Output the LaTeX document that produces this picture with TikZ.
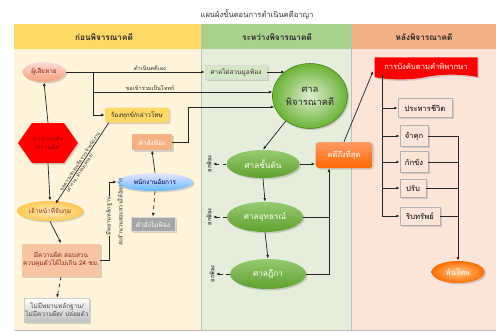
\documentclass[tikz,border=0pt]{standalone}
\usepackage{fontspec}
\setmainfont{Liberation Sans}
\newfontfamily\thaifont[Script=Thai]{Loma}
\usetikzlibrary{shapes.geometric,shapes.symbols,shadows,calc,arrows.meta}

\definecolor{hdyel}{HTML}{FFD966}
\definecolor{hdgrn}{HTML}{A9D18E}
\definecolor{hdorg}{HTML}{F4B183}
\definecolor{bdyel}{HTML}{FFF3D9}
\definecolor{bdgrn}{HTML}{E4EEDB}
\definecolor{bdorg}{HTML}{FCE4D9}
\definecolor{linec}{HTML}{262626}
\definecolor{darkred}{HTML}{8B2A10}
\definecolor{courtgrn}{HTML}{6AB334}

\tikzset{
  every node/.style={font=\thaifont\fontsize{5.5}{6.8}\selectfont, align=center, inner sep=1pt},
  dropsh/.style={drop shadow={shadow xshift=1.3pt, shadow yshift=-1.3pt, opacity=0.3}},
  headtext/.style={font=\thaifont\bfseries\fontsize{7}{8}\selectfont, text=black!85},
  ovalnode/.style={ellipse, dropsh},
  plainbox/.style={rectangle, dropsh},
  courtoval/.style={ellipse, dropsh, top color=courtgrn!70!white, bottom color=courtgrn!90!black,
    text=white, font=\thaifont\fontsize{7}{8}\selectfont, minimum width=2.28cm, minimum height=0.9cm},
  penalty/.style={rectangle, dropsh, fill=bdorg, draw=black!30, line width=0.4pt,
    font=\thaifont\fontsize{6.5}{7.5}\selectfont, minimum height=0.6cm},
  linetext/.style={font=\thaifont\fontsize{4.8}{5.6}\selectfont, text=black!80},
  slanttext/.style={font=\thaifont\fontsize{4}{4.6}\selectfont, text=black!80, inner sep=0.6pt},
  dismiss/.style={linetext, rotate=90, font=\thaifont\bfseries\fontsize{4.8}{5.6}\selectfont}
}

\begin{document}
\begin{tikzpicture}[x=0.03cm, y=-0.03cm, >={Latex[length=3pt,width=2.4pt]}, line width=0.6pt]
\useasboundingbox (0,0) rectangle (496,333);

\fill[bdyel] (14,49) rectangle (201,330);
\fill[bdgrn] (201,49) rectangle (351,330);
\fill[bdorg] (351,49) rectangle (496,330);
\fill[hdyel] (14,24) rectangle (201,49);
\fill[hdgrn] (201,24) rectangle (351,49);
\fill[hdorg] (351,24) rectangle (496,49);
\draw[black!25, line width=0.4pt] (201,24) -- (201,330) (351,24) -- (351,330) (14,330) -- (496,330);

\node[font=\thaifont\fontsize{6.5}{7.5}\selectfont, text=black!80] (title) at (257,14) {แผนผังขั้นตอนการดำเนินคดีอาญา};
\node[headtext] (head1) at (104,37) {ก่อนพิจารณาคดี};
\node[headtext] (head2) at (277,37) {ระหว่างพิจารณาคดี};
\node[headtext] (head3) at (424,37) {หลังพิจารณาคดี};

\node[ovalnode, top color=red!15!white, bottom color=hdorg!90!red, text=darkred,
  minimum width=1.29cm, minimum height=0.6cm] (victim) at (44,72) {ผู้เสียหาย};
\node[signal, signal to=west and east, signal pointer angle=110, dropsh, fill=red, text=red!55!black,
  minimum width=1.68cm, minimum height=1.2cm] (crime) at (48,143) {การกระทำ\\ความผิด};
\node[ovalnode, inner color=white!60!hdyel, outer color=hdyel!80!orange, text=darkred,
  minimum width=1.98cm, minimum height=0.6cm] (arrest) at (50,211) {เจ้าหน้าที่จับกุม};
\node[plainbox, fill=hdorg!75!white, text=darkred, minimum width=2.31cm, minimum height=0.99cm]
  (inv) at (61,260) {มีความผิด สอบสวน\\ควบคุมตัวได้ไม่เกิน 24 ชม.};
\node[plainbox, top color=white, bottom color=black!25, draw=black!20, line width=0.4pt, text=black!70,
  minimum width=1.95cm, minimum height=0.72cm] (noevid) at (57,310) {ไม่มีพยานหลักฐาน/\\ไม่มีความผิด/ ปล่อยตัว};
\node[plainbox, rounded corners=2pt, fill=hdyel, text=black!85, minimum width=1.92cm, minimum height=0.45cm]
  (complain) at (137,115) {ร้องทุกข์/กล่าวโทษ};
\node[plainbox, fill=hdorg, text=white, minimum width=1.2cm, minimum height=0.48cm] (indict) at (152,142) {คำสั่งฟ้อง};
\node[ovalnode, top color=blue!10!white, bottom color=blue!45!cyan!60!white, text=blue!30!black,
  minimum width=2.28cm, minimum height=0.54cm] (pros) at (155,182) {พนักงานอัยการ};
\node[plainbox, fill=black!35, draw=black!15, text=white, minimum width=1.32cm, minimum height=0.42cm]
  (nonind) at (153,224) {คำสั่งไม่ฟ้อง};

\node[plainbox, fill=hdgrn!50!white, draw=black!15, line width=0.4pt, text=black!80,
  minimum width=1.86cm, minimum height=0.42cm] (inq) at (236,72) {ศาลไต่สวนมูลฟ้อง};
\node[ovalnode, inner color=hdgrn!40!white, outer color=courtgrn, draw=courtgrn!70!black, line width=0.5pt,
  font=\thaifont\fontsize{8}{11}\selectfont, text=black!85, minimum width=2.25cm, minimum height=1.95cm]
  (court) at (310,96) {ศาล\\พิจารณาคดี};
\node[courtoval, minimum width=2.19cm, minimum height=0.84cm] (first) at (263,164) {ศาลชั้นต้น};
\node[courtoval] (appeal) at (265,217) {ศาลอุทธรณ์};
\node[courtoval] (supreme) at (268,274) {ศาลฎีกา};
\node[plainbox, rounded corners=3pt, top color=orange!70!red!60!white, bottom color=orange!80!red,
  text=white, font=\thaifont\fontsize{6.5}{7.5}\selectfont, minimum width=1.71cm, minimum height=0.78cm]
  (final) at (344,155) {คดีถึงที่สุด};
\node[dismiss] (dis1) at (209,164) {ยกฟ้อง};
\node[dismiss] (dis2) at (209,217) {ยกฟ้อง};
\node[dismiss] (dis3) at (212,274) {ยกฟ้อง};

\node[tape, tape bend top=none, tape bend height=4pt, dropsh, fill=red, text=white,
  font=\thaifont\fontsize{6.5}{7.5}\selectfont, minimum width=3.09cm, minimum height=0.66cm]
  (enforce) at (426,66) {การบังคับตามคำพิพากษา};
\node[penalty, minimum width=1.62cm, minimum height=0.57cm] (death) at (425,108) {ประหารชีวิต};
\node[penalty, minimum width=0.84cm, minimum height=0.63cm] (jail) at (414,136) {จำคุก};
\node[penalty, minimum width=0.84cm, minimum height=0.63cm] (detain) at (414,162) {กักขัง};
\node[penalty, minimum width=0.78cm, minimum height=0.54cm] (fine) at (413,188) {ปรับ};
\node[penalty, minimum width=1.2cm, minimum height=0.54cm] (seize) at (420,216) {ริบทรัพย์};
\node[ovalnode, inner color=orange!45!white, outer color=orange!85!red, text=white,
  font=\thaifont\fontsize{6.5}{7.5}\selectfont, minimum width=1.59cm, minimum height=0.66cm]
  (release) at (458,272) {พ้นโทษ};

\coordinate (split) at (93,72);
\coordinate (joint) at (93,92);
\coordinate (turn) at (188,107);
\draw[linec, ->] (crime.north) -- (victim.south);
\draw[linec, ->] (victim.east) -- (inq.west);
\node[linetext, above] (own) at (150,72) {ดำเนินคดีเอง};
\draw[linec, ->] (split) |- (complain.west);
\draw[linec, ->] (joint) -- (joint -| court.174);
\node[linetext, above] (join) at (150,92) {ขอเข้าร่วมเป็นโจทก์};
\draw[linec, ->] (indict.east) -| (turn) -- (turn -| court.197);
\draw[linec, ->] (inq.east) -- (inq.east -| court.136);
\draw[linec, ->] (crime.south) -- (arrest.north);
\draw[linec, ->] ($(complain.south west)+(4,0)$) -- ($(arrest.north east)+(-18,0)$)
  node[slanttext, sloped, pos=0.5, above] {ขอความช่วยเหลือจากเจ้าพนักงาน}
  node[slanttext, sloped, pos=0.6, below] {(ตำรวจ, ฝ่ายปกครอง)};
\draw[linec, ->] (arrest.south) -- (inv.north);
\draw[linec, ->, dashed] (inv.south) -- (noevid.north);
\draw[linec, ->] (inv.east) -- ++(9,0) |- (pros.west);
\node[linetext, rotate=90, fill=bdyel, inner sep=0.5pt] (evid) at (109,216) {มีพยานหลักฐาน};
\node[linetext, rotate=90] (send) at (120,212) {ส่งสำนวนสอบสวนให้อัยการ};
\draw[linec, ->] (pros.north) -- (indict.south);
\draw[linec, ->, dashed] (pros.south) -- (nonind.north);

\draw[linec, ->] (court.226) -- (first.north);
\draw[linec, ->] (first.east) -- (first.east -| final.west);
\draw[linec, ->] (first.south) -- (appeal.north);
\draw[linec, ->] (appeal.south) -- (supreme.north);
\coordinate (finin) at ($(final.south)+(-15,0)$);
\draw[linec, ->] (supreme.east) -| (finin);
\draw[linec] (appeal.east) -- (appeal.east -| finin);
\draw[linec, ->, dashed] (first.west) -- (dis1.south);
\draw[linec, ->, dashed] (appeal.west) -- (dis2.south);
\draw[linec, ->, dashed] (supreme.west) -- (dis3.south);
\draw[linec, ->] (final.north) -- ($(enforce.south west)+(-1,-4)$);

\coordinate (trunk) at ($(enforce.south west)+(8.5,0)$);
\draw[linec, ->] (trunk) |- (seize.west);
\draw[linec, ->] (trunk |- death.west) -- (death.west);
\draw[linec, ->] (trunk |- jail.west) -- (jail.west);
\draw[linec, ->] (trunk |- detain.west) -- (detain.west);
\draw[linec, ->] (trunk |- fine.west) -- (fine.west);
\draw[linec, ->] (jail.east) -| (release.north);
\draw[linec] (detain.east) -- (detain.east -| release.north);
\draw[linec] (fine.east) -- (fine.east -| release.north);
\draw[linec] (seize.east) -- (seize.east -| release.north);
\end{tikzpicture}
\end{document}
